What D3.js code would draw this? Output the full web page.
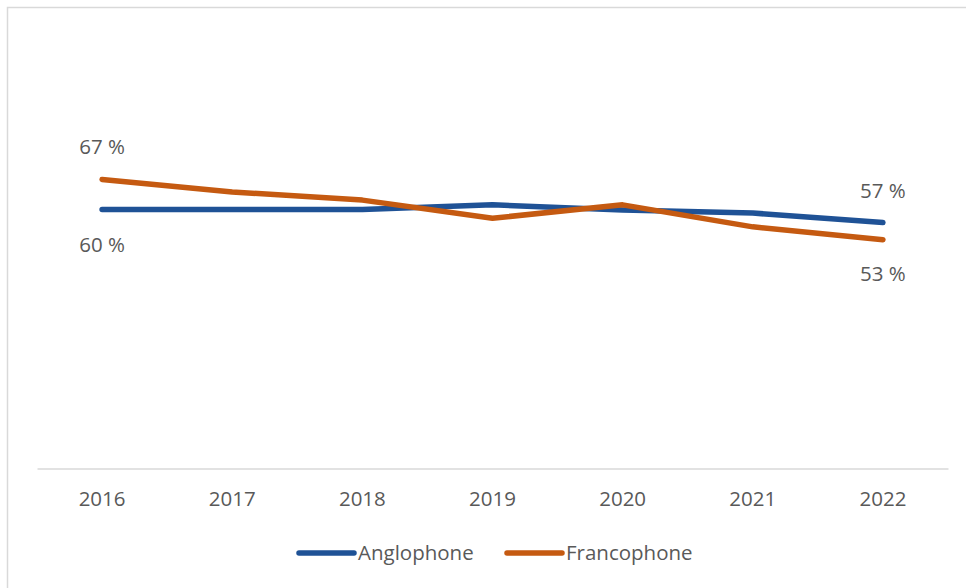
<!DOCTYPE html>
<html lang="fr">
<head>
    <meta charset="UTF-8">
    <title>Anglophone / Francophone</title>
    <script src="https://d3js.org/d3.v7.min.js"></script>
    <style>
        body { margin: 0; background: #fff; }
        text { font-family: "Open Sans", "Noto Sans", sans-serif; fill: #595959; }
    </style>
</head>
<body>
    <svg id="chart" width="966" height="588"></svg>

    <script>
        // data
        const years = ["2016", "2017", "2018", "2019", "2020", "2021", "2022"];
        const anglophone = [60, 60, 60, 61.1, 59.9, 59.2, 57];
        const francophone = [67, 64.1, 62.2, 58, 61.1, 56, 53];
        const seriesNames = ["Anglophone", "Francophone"];
        const colors = ["#1f5296", "#c55a11"];

        const svg = d3.select("#chart");

        // outer frame
        svg.append("rect")
            .attr("x", 7.5).attr("y", 7.5)
            .attr("width", 970).attr("height", 600)
            .attr("fill", "none")
            .attr("stroke", "#d9d9d9")
            .attr("stroke-width", 1.5);

        const x = d3.scaleBand().domain(years).range([37, 948]);
        const y = d3.scaleLinear().domain([0, 100]).range([468.5, 37]);
        const xc = d => x(d) + x.bandwidth() / 2;

        // x axis
        const xAxis = svg.append("g")
            .attr("transform", "translate(0,468.5)")
            .call(d3.axisBottom(x).tickSize(0).tickPadding(23));
        xAxis.select(".domain").attr("stroke", "#d9d9d9").attr("stroke-width", 1.5);
        xAxis.selectAll("text")
            .style("font-size", "20.5px")
            .attr("fill", "#595959");

        const line = d3.line()
            .x((d, i) => xc(years[i]))
            .y(d => y(d));

        [anglophone, francophone].forEach((vals, s) => {
            svg.append("path")
                .datum(vals)
                .attr("fill", "none")
                .attr("stroke", colors[s])
                .attr("stroke-width", 5.5)
                .attr("stroke-linecap", "round")
                .attr("stroke-linejoin", "round")
                .attr("d", line);
        });

        // end labels: [series values, index, offset]
        const labels = [
            [francophone, 0, -25],
            [anglophone, 0, 42],
            [anglophone, 6, -25],
            [francophone, 6, 41]
        ];
        labels.forEach(([vals, i, dy]) => {
            svg.append("text")
                .attr("x", xc(years[i]))
                .attr("y", y(vals[i]) + dy)
                .attr("text-anchor", "middle")
                .style("font-size", "20.5px")
                .text(Math.round(vals[i]) + " %");
        });

        // legend
        const legendX = [299, 507];
        seriesNames.forEach((name, i) => {
            const g = svg.append("g").attr("transform", `translate(${legendX[i]},553)`);
            g.append("line")
                .attr("x1", 0).attr("x2", 55)
                .attr("stroke", colors[i])
                .attr("stroke-width", 5.5)
                .attr("stroke-linecap", "round");
            g.append("text")
                .attr("x", 59)
                .attr("y", 7)
                .style("font-size", "20.5px")
                .text(name);
        });
    </script>
</body>
</html>
